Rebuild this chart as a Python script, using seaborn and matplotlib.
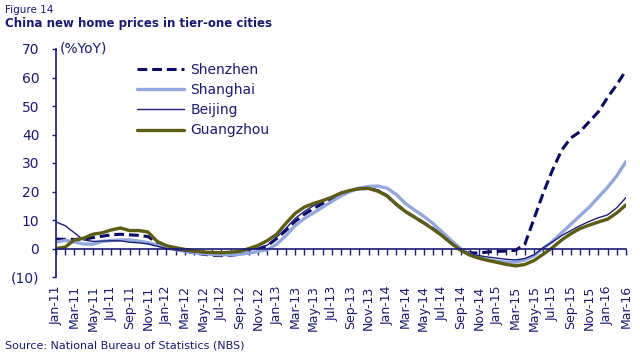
import matplotlib
matplotlib.use("Agg")
import matplotlib.pyplot as plt
import pandas as pd
import seaborn as sns

# monthly YoY % change, Jan-11 .. Mar-16
months = pd.date_range("2011-01-01", "2016-03-01", freq="MS")
month_labels = list(months.strftime("%b-%y"))

shenzhen = [3.3, 3.2, 3.2, 3.3, 3.8, 4.3, 4.8, 5.0, 4.8, 4.6, 4.2, 2.0,
            0.4, -0.3, -0.9, -1.5, -2.0, -2.4, -2.5, -2.4, -2.0, -1.5, -0.3, 1.0,
            3.5, 6.3, 9.5, 12.0, 14.0, 15.8, 17.3, 18.8, 20.2, 21.0, 21.0, 20.3,
            18.5, 15.5, 13.0, 11.0, 9.0, 7.0, 4.5, 2.0, -0.3, -1.5, -1.6, -1.2,
            -1.0, -0.9, -0.6, 1.5, 10.5, 19.5, 27.5, 34.5, 38.8, 41.0, 44.5, 48.0,
            53.0, 57.5, 62.5]
shanghai = [2.3, 2.8, 2.3, 1.6, 1.5, 2.5, 2.8, 3.0, 3.0, 2.6, 2.0, 1.2,
            0.2, -0.4, -0.9, -1.4, -1.8, -2.1, -2.2, -2.2, -2.0, -1.6, -1.0, -0.4,
            1.5, 4.5, 8.0, 10.5, 12.5, 14.5, 16.5, 18.5, 20.0, 21.2, 21.8, 21.9,
            21.2, 19.0, 15.8, 13.5, 11.3, 8.8, 5.8, 2.8, 0.0, -2.0, -3.3, -4.0,
            -4.5, -4.8, -4.8, -4.0, -2.5, 0.0, 2.5, 5.5, 8.5, 11.5, 14.5, 18.0,
            21.5, 25.5, 30.5]
beijing = [9.3, 8.0, 5.5, 3.0, 2.5, 2.6, 2.7, 2.7, 2.2, 2.0, 1.6, 0.8,
           0.0, -0.5, -0.9, -1.2, -1.5, -1.6, -1.5, -1.3, -1.0, -0.5, 0.2, 1.2,
           4.0, 7.0, 10.5, 13.0, 15.0, 16.5, 18.0, 19.2, 20.3, 21.0, 21.1, 20.6,
           18.8, 16.0, 13.2, 11.2, 9.2, 7.0, 4.7, 2.0, -0.3, -1.8, -2.5, -3.0,
           -3.4, -3.8, -4.0, -3.5, -2.2, 0.3, 2.3, 4.5, 6.3, 8.0, 9.5, 10.8,
           11.8, 14.3, 17.9]
guangzhou = [0.0, 0.5, 3.0, 3.6, 5.0, 5.5, 6.5, 7.2, 6.3, 6.3, 5.8, 2.5,
             1.0, 0.3, -0.3, -0.8, -1.2, -1.4, -1.5, -1.3, -1.0, 0.0, 1.1, 2.8,
             5.0, 8.8, 12.3, 14.5, 15.8, 16.8, 18.0, 19.5, 20.4, 21.0, 21.1, 20.1,
             18.5, 15.5, 13.0, 11.0, 9.0, 6.8, 4.5, 1.8, -0.6, -2.3, -3.4, -4.2,
             -4.9, -5.6, -6.1, -5.6, -4.2, -2.0, 0.3, 3.0, 5.2, 7.0, 8.2, 9.3,
             10.3, 12.5, 15.3]

y_ticks = [-10, 0, 10, 20, 30, 40, 50, 60, 70]
y_tick_labels = ["(10)", "0", "10", "20", "30", "40", "50", "60", "70"]

NAVY = "#1a1a73"

sns.set_style("white")
plt.rcParams["font.family"] = ["DejaVu Sans"]
plt.rcParams["text.color"] = NAVY
plt.rcParams["xtick.color"] = NAVY
plt.rcParams["ytick.color"] = NAVY

df = pd.DataFrame({"month": range(len(months)),
                   "Shenzhen": shenzhen,
                   "Shanghai": shanghai,
                   "Beijing": beijing,
                   "Guangzhou": guangzhou})

styles = {
    "Shenzhen": dict(color="#0a0a66", linewidth=2.2, linestyle=(0, (3.2, 1.6))),
    "Shanghai": dict(color="#94a7dc", linewidth=2.4, linestyle="-"),
    "Beijing": dict(color="#1f1f7a", linewidth=1.0, linestyle="-"),
    "Guangzhou": dict(color="#5c5c14", linewidth=2.4, linestyle="-"),
}

fig = plt.figure(figsize=(6.4, 3.6), dpi=100)
ax = fig.add_axes([56 / 640, 83 / 360, 570 / 640, 228 / 360])

for city, st in styles.items():
    sns.lineplot(data=df, x="month", y=city, ax=ax, label=city, **st)

ax.set_xlim(0, len(months) - 1)
ax.set_ylim(-10, 70)
ax.set_xlabel("")
ax.set_ylabel("")

# y axis
ax.set_yticks(y_ticks, labels=y_tick_labels)
ax.tick_params(axis="y", left=True, length=3, width=1, direction="out",
               pad=9, labelsize=10)
ax.spines["left"].set_color(NAVY)
ax.spines["left"].set_linewidth(1.2)
ax.spines["top"].set_visible(False)
ax.spines["right"].set_visible(False)

# zero line with monthly ticks
ax.spines["bottom"].set_position(("data", 0))
ax.spines["bottom"].set_color(NAVY)
ax.spines["bottom"].set_linewidth(1.2)
ax.spines["bottom"].set_zorder(5)
ax.set_xticks(range(len(months)))
ax.tick_params(axis="x", bottom=True, length=4, width=1, direction="out",
               labelbottom=False)

# month labels below plot
sec = ax.secondary_xaxis(0)
sec.set_xticks(range(0, len(months), 2), labels=month_labels[::2])
sec.tick_params(axis="x", length=0, pad=6, labelsize=9, labelrotation=90)
sec.spines["bottom"].set_visible(False)

ax.text(0.006, 1.0, "(%YoY)", transform=ax.transAxes, fontsize=10,
        ha="left", va="center")

ax.legend(loc="upper left", bbox_to_anchor=(0.142, 0.94), frameon=False,
          fontsize=10, handlelength=3.4, handletextpad=0.45,
          labelspacing=0.45, borderpad=0, borderaxespad=0)

fig.text(5 / 640, 1 - 10 / 360, "Figure 14", fontsize=7.5, va="center")
fig.text(5 / 640, 1 - 24 / 360, "China new home prices in tier-one cities",
         fontsize=8.5, weight="bold", va="center")
fig.text(5 / 640, 1 - 345 / 360, "Source: National Bureau of Statistics (NBS)",
         fontsize=8, va="center")

fig.savefig("out.png", dpi=100)
